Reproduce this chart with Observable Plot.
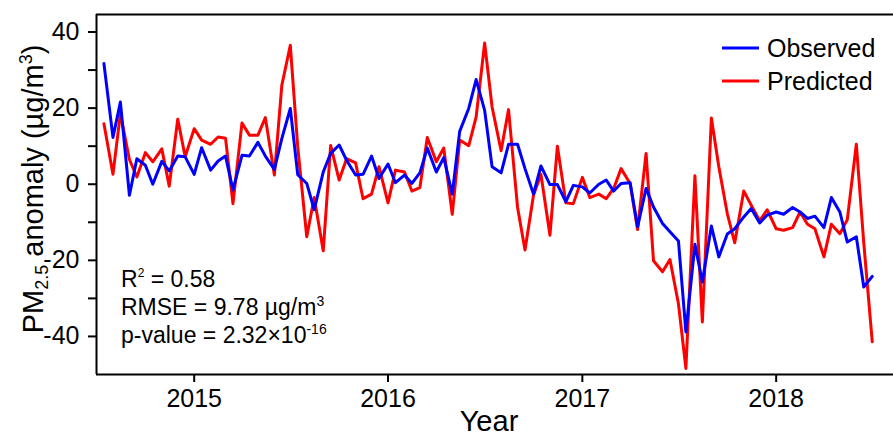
<!DOCTYPE html>
<html>
<head>
<meta charset="utf-8">
<script src="https://cdn.jsdelivr.net/npm/d3@7"></script>
<script src="https://cdn.jsdelivr.net/npm/@observablehq/plot@0.6"></script>
<style>
  body { margin: 0; background: #fff; }
  #chart svg { display: block; }
  #chart [aria-label^="x-axis"] line, #chart [aria-label^="x-axis"] path,
  #chart [aria-label^="y-axis"] line, #chart [aria-label^="y-axis"] path { stroke-width: 2px; stroke: #000; }
</style>
</head>
<body>
<div id="chart"></div>
<script>
// Semi-monthly PM2.5 anomalies (µg/m³), 15 Jul 2014 – 1 Jul 2018
const observed = [
  31.7, 12.3, 21.6, -2.9, 6.7, 5.0, 0.0, 6.0, 3.5, 7.4, 7.2, 2.6,
  9.6, 3.7, 6.1, 7.4, -1.5, 7.6, 7.4, 11.0, 7.4, 3.9, 12.0, 19.9,
  2.5, 0.2, -6.7, 3.2, 8.1, 10.3, 6.3, 2.4, 2.6, 7.4, 1.5, 5.3,
  0.4, 2.4, 0.2, 3.0, 9.5, 3.2, 7.0, -2.6, 13.9, 19.9, 27.5, 19.4,
  4.6, 3.0, 10.5, 10.5, 4.1, -2.6, 4.8, -0.1, -0.1, -4.6, -0.3, -0.7,
  -2.3, 0.0, 1.1, -1.8, 0.2, 0.4, -11.2, -1.1, -6.0, -10.3, -12.5, -14.9,
  -38.8, -15.8, -25.7, -11.0, -19.1, -13.1, -11.7, -8.6, -6.4, -10.2, -8.1, -7.3,
  -7.9, -6.1, -7.3, -9.0, -8.4, -11.4, -3.5, -7.3, -15.2, -13.8, -27.0, -24.2
];
const predicted = [
  15.9, 2.6, 18.6, 6.5, 1.9, 8.3, 5.9, 9.3, -0.5, 17.1, 7.2, 14.6,
  11.6, 10.5, 12.4, 12.1, -5.1, 16.1, 12.9, 12.9, 17.5, 2.4, 26.0, 36.5,
  9.8, -13.8, -3.5, -17.5, 10.2, 1.1, 6.7, 5.6, -3.8, -2.6, 4.6, -4.9,
  3.7, 3.2, -1.8, -0.9, 12.3, 5.9, 9.5, -7.9, 11.6, 10.1, 17.7, 37.1,
  20.3, 8.8, 19.6, -6.1, -17.3, -2.9, 2.6, -13.4, 10.0, -4.9, -5.1, 1.8,
  -3.5, -2.6, -3.8, -1.1, 4.1, 0.2, -11.9, 8.1, -20.1, -23.0, -19.8, -31.4,
  -48.4, 2.2, -36.2, 17.4, 4.6, -7.7, -15.4, -1.8, -5.5, -9.6, -6.7, -11.7,
  -12.1, -11.4, -7.3, -10.5, -11.7, -19.1, -10.5, -13.0, -9.3, 10.5, -15.4, -41.4
];
const seriesNames = ["Observed", "Predicted"];
const seriesColors = ["#0000ff", "#ff0000"];
const yearTicks = [2015, 2016, 2017, 2018];
const yTicks = [-40, -30, -20, -10, 0, 10, 20, 30, 40];
const yLabeled = [-40, -20, 0, 20, 40];
const stats = { r2: "0.58", rmse: "9.78", p: "2.32", pExp: "-16" };

// Sampling dates: the 15th and the 1st of each month, alternating
const dates = observed.map((_, i) => {
  const k = i + 1;
  return new Date(Date.UTC(2014, 6 + Math.floor(k / 2), k % 2 ? 15 : 1));
});

const rows = [];
[observed, predicted].forEach((vals, s) => {
  vals.forEach((v, i) => rows.push({ date: dates[i], value: v, series: seriesNames[s] }));
});

const font = "'Liberation Sans', Arial, Helvetica, sans-serif";
const W = 893, H = 436;
const mL = 96, mT = 14, mB = 62, mR = 0;

const plot = Plot.plot({
  width: W,
  height: H,
  marginLeft: mL,
  marginRight: mR,
  marginTop: mT,
  marginBottom: mB,
  style: { fontFamily: font, fontSize: "25px", color: "#000", background: "#fff", overflow: "visible" },
  x: {
    type: "utc",
    domain: [new Date(Date.UTC(2014, 6, 1)), new Date(Date.UTC(2018, 7, 10))],
    ticks: yearTicks.map(y => new Date(Date.UTC(y, 0, 1))),
    tickFormat: d => String(d.getUTCFullYear()),
    tickSize: 8,
    tickPadding: 7,
    label: null
  },
  y: {
    domain: [-50, 44.6],
    ticks: yTicks,
    tickFormat: d => (yLabeled.includes(d) ? String(d) : ""),
    tickSize: 8,
    tickPadding: 9,
    label: null
  },
  color: { domain: seriesNames, range: seriesColors },
  marks: [
    Plot.ruleY([44.6, -50], { stroke: "#000", strokeWidth: 2 }),
    Plot.ruleX([new Date(Date.UTC(2014, 6, 1))], { stroke: "#000", strokeWidth: 2 }),
    Plot.line(rows.filter(d => d.series === "Predicted"), {
      x: "date", y: "value", stroke: "series", strokeWidth: 3, strokeLinejoin: "round"
    }),
    Plot.line(rows.filter(d => d.series === "Observed"), {
      x: "date", y: "value", stroke: "series", strokeWidth: 3, strokeLinejoin: "round"
    })
  ]
});

document.getElementById("chart").appendChild(plot);

// Titles, statistics and legend
const svg = d3.select(plot);
const ann = svg.append("g").attr("font-family", font).attr("fill", "#000").attr("text-anchor", "start");

const yTitle = ann.append("text")
  .attr("transform", "translate(43,189) rotate(-90)")
  .attr("text-anchor", "middle")
  .attr("font-size", 29);
yTitle.append("tspan").text("PM");
yTitle.append("tspan").attr("font-size", 18).attr("dy", 5).text("2.5");
yTitle.append("tspan").attr("dy", -5).text(" anomaly (\u00b5g/m");
yTitle.append("tspan").attr("font-size", 18).attr("dy", -11).text("3");
yTitle.append("tspan").attr("dy", 11).text(")");

ann.append("text")
  .attr("x", 489).attr("y", 431)
  .attr("text-anchor", "middle")
  .attr("font-size", 29)
  .text("Year");

const s1 = ann.append("text").attr("x", 121).attr("y", 287).attr("font-size", 23).attr("text-anchor", "start");
s1.append("tspan").text("R");
s1.append("tspan").attr("font-size", 12).attr("dy", -10).text("2");
s1.append("tspan").attr("dy", 10).text(" = " + stats.r2);

const s2 = ann.append("text").attr("x", 121).attr("y", 315).attr("font-size", 23).attr("text-anchor", "start");
s2.append("tspan").text("RMSE = " + stats.rmse + " \u00b5g/m");
s2.append("tspan").attr("font-size", 14).attr("dy", -9).text("3");

const s3 = ann.append("text").attr("x", 121).attr("y", 343).attr("font-size", 23).attr("text-anchor", "start");
s3.append("tspan").text("p-value = " + stats.p + "\u00d710");
s3.append("tspan").attr("font-size", 14).attr("dy", -9).text(stats.pExp);

seriesNames.forEach((name, i) => {
  const y = 48 + i * 33;
  ann.append("line")
    .attr("x1", 722).attr("x2", 759).attr("y1", y).attr("y2", y)
    .attr("stroke", seriesColors[i]).attr("stroke-width", 3);
  ann.append("text")
    .attr("x", 767).attr("y", y + 9)
    .attr("font-size", 25)
    .attr("text-anchor", "start")
    .text(name);
});
</script>
</body>
</html>
